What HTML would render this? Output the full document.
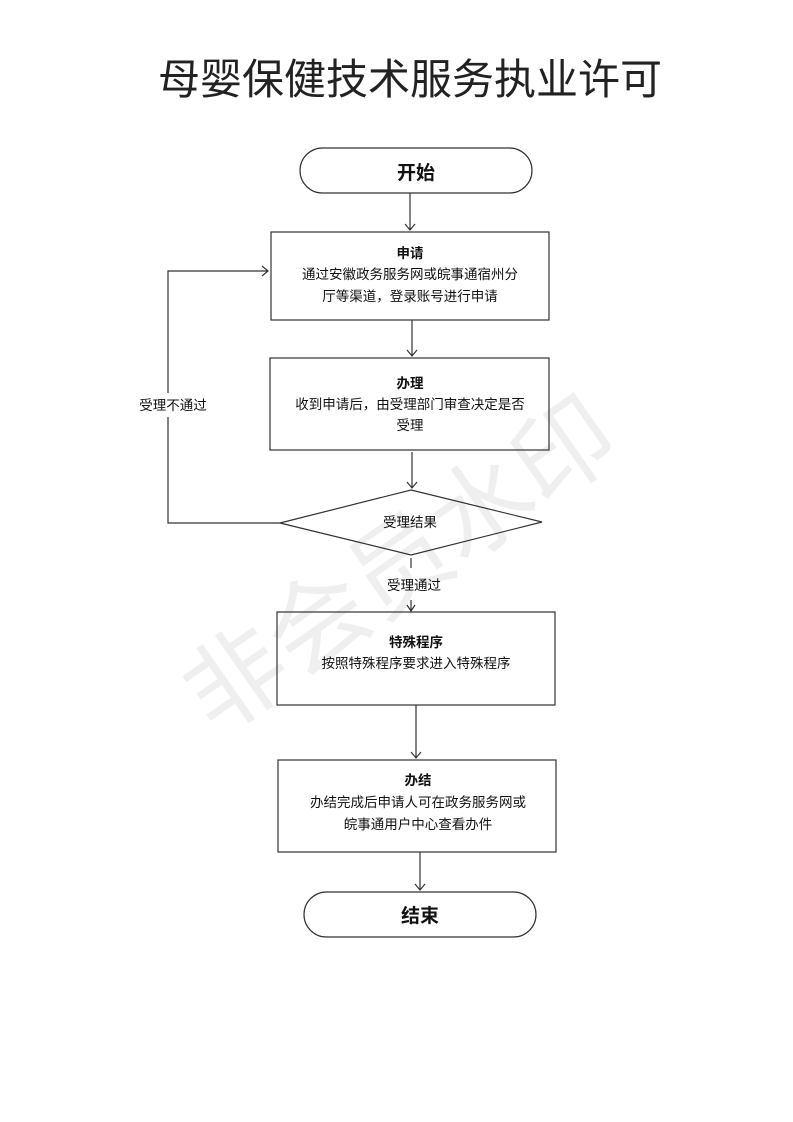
<!DOCTYPE html>
<html><head><meta charset="utf-8"><style>
html,body{margin:0;padding:0;background:#fff;}
svg{display:block;}
text{font-family:"Liberation Sans","Noto Sans CJK SC",sans-serif;fill:#111;}
</style></head><body>
<svg width="793" height="1122" viewBox="0 0 793 1122" xmlns="http://www.w3.org/2000/svg">
<g opacity="0.06"><text x="400" y="600" font-size="100" text-anchor="middle" transform="rotate(-35 400 565)" style="fill:#000">非会员水印</text></g>
<text x="410" y="94" font-size="42" text-anchor="middle" style="fill:#222">母婴保健技术服务执业许可</text>
<g fill="none" stroke="#333" stroke-width="1.2">
<rect x="300" y="148" width="232" height="45" rx="22.5"/>
<rect x="271" y="232" width="278" height="88"/>
<rect x="270" y="358" width="279" height="92"/>
<polygon points="411,490 542,522 411,555 280,523"/>
<rect x="277" y="612" width="278" height="93"/>
<rect x="278" y="760" width="278" height="92"/>
<rect x="304" y="892" width="232" height="45" rx="22.5"/>
<path d="M410 193V230M405 224L410 230L415 224"/>
<path d="M412 320V356M407 350L412 356L417 350"/>
<path d="M412 452V488M407 482L412 488L417 482"/>
<path d="M280 523H168V271H268M262 266L268 271L262 276"/>
<path d="M411 558V568M411 600V611M407 605L411 611L415 605"/>
<path d="M416 705V758M411 752L416 758L421 752"/>
<path d="M420 852V890M415 884L420 890L425 884"/>
</g>
<rect x="140" y="393" width="70" height="24" fill="#fff"/>
<text x="416" y="179" font-size="19" font-weight="bold" text-anchor="middle">开始</text>
<text x="410" y="258" font-size="13.5" font-weight="bold" text-anchor="middle">申请</text>
<text x="410" y="279" font-size="13.5" text-anchor="middle">通过安徽政务服务网或皖事通宿州分</text>
<text x="410" y="301" font-size="13.5" text-anchor="middle">厅等渠道，登录账号进行申请</text>
<text x="410" y="388" font-size="13.5" font-weight="bold" text-anchor="middle">办理</text>
<text x="410" y="409" font-size="13.5" text-anchor="middle">收到申请后，由受理部门审查决定是否</text>
<text x="410" y="430" font-size="13.5" text-anchor="middle">受理</text>
<text x="410" y="527" font-size="13.5" text-anchor="middle">受理结果</text>
<text x="173" y="410" font-size="13.5" text-anchor="middle">受理不通过</text>
<text x="414" y="590" font-size="13.5" text-anchor="middle">受理通过</text>
<text x="416" y="647" font-size="13.5" font-weight="bold" text-anchor="middle">特殊程序</text>
<text x="416" y="668" font-size="13.5" text-anchor="middle">按照特殊程序要求进入特殊程序</text>
<text x="418" y="785" font-size="13.5" font-weight="bold" text-anchor="middle">办结</text>
<text x="418" y="807" font-size="13.5" text-anchor="middle">办结完成后申请人可在政务服务网或</text>
<text x="418" y="829" font-size="13.5" text-anchor="middle">皖事通用户中心查看办件</text>
<text x="420" y="922" font-size="19" font-weight="bold" text-anchor="middle">结束</text>
</svg>
</body></html>
